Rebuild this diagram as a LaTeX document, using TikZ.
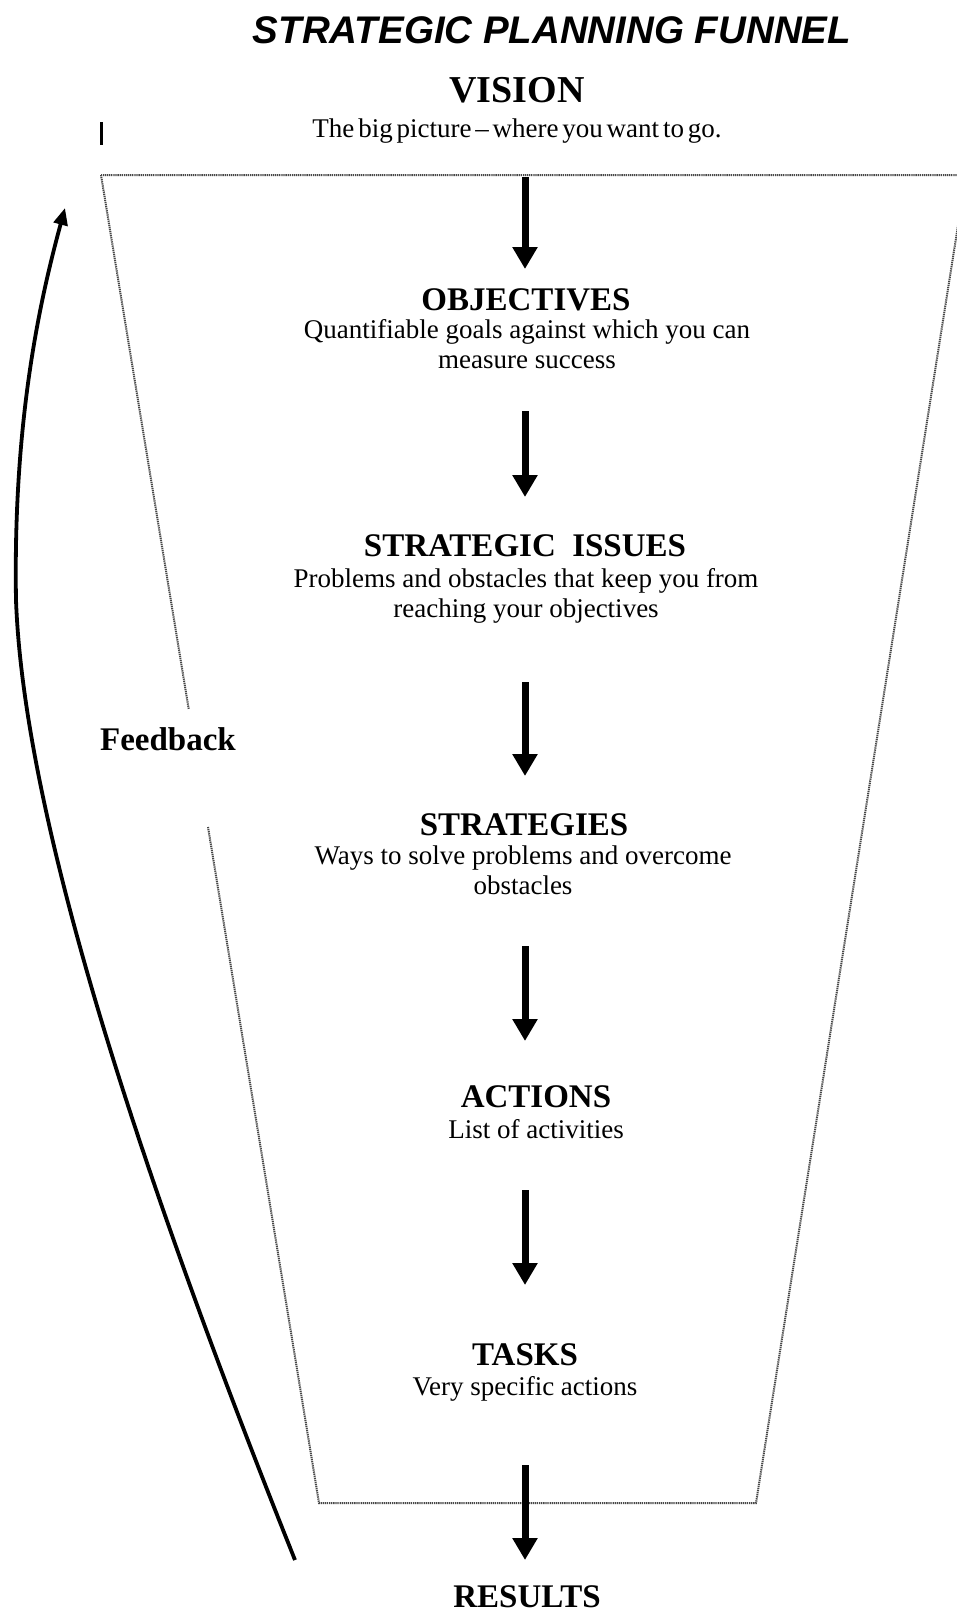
\documentclass[tikz,border=0pt]{standalone}
\usepackage{fontspec}
\setmainfont{Liberation Serif}
\newfontfamily\headsans{Liberation Sans}
\usetikzlibrary{arrows.meta}

\begin{document}
\begin{tikzpicture}[x=1pt,y=-1pt,
  funnelline/.style={draw=black!72, line width=2pt, dash pattern=on 1.3pt off 0.8pt},
  flowarrow/.style={line width=7pt, -{Triangle[width=24pt,length=22pt]}},
  headtext/.style={anchor=base, font=\fontsize{33}{36}\selectfont\bfseries, inner sep=0pt},
  bodytext/.style={anchor=base, font=\fontsize{27}{30}\selectfont, inner sep=0pt},
]
\useasboundingbox (0,0) rectangle (957,1612);
\fill[white] (0,0) rectangle (957,1612);

% funnel outline, left side broken around the feedback label
\begin{scope}
  \clip (0,0) rectangle (957,1612);
  \draw[funnelline] (101,175) -- (188.7,709);
  \draw[funnelline] (208,827) -- (319,1503) -- (756,1503) -- (966,175) -- (101,175);
\end{scope}

% small mark at the upper left
\draw[line width=3pt] (101,122) -- (101,145);

% title
\node[anchor=base, inner sep=0pt, font=\headsans\fontsize{38.5}{40}\selectfont\bfseries\itshape] (title) at (552,43) {STRATEGIC PLANNING FUNNEL};

% stages
\node[anchor=base, inner sep=0pt, font=\fontsize{38}{40}\selectfont\bfseries] (vision) at (517,102) {VISION};
\node[bodytext] (visiondesc) at (517,137) {\spaceskip=3.8pt The big picture – where you want to go.};

\node[headtext] (objectives) at (526,310) {OBJECTIVES};
\node[bodytext] (objdesc1) at (527,338) {Quantifiable goals against which you can};
\node[bodytext] (objdesc2) at (527,368) {measure success};

\node[headtext] (issues) at (525,556) {STRATEGIC\ \ ISSUES};
\node[bodytext] (issdesc1) at (526,587) {Problems and obstacles that keep you from};
\node[bodytext] (issdesc2) at (526,617) {reaching your objectives};

\node[headtext] (strategies) at (524,835) {STRATEGIES};
\node[bodytext] (strdesc1) at (523,864) {Ways to solve problems and overcome};
\node[bodytext] (strdesc2) at (523,894) {obstacles};

\node[headtext] (actions) at (536,1107) {ACTIONS};
\node[bodytext] (actdesc) at (536,1138) {List of activities};

\node[headtext] (tasks) at (525,1365) {TASKS};
\node[bodytext] (taskdesc) at (525,1395) {Very specific actions};

\node[headtext] (results) at (527,1607) {RESULTS};

\node[headtext] (feedback) at (168,750) {Feedback};

% flow arrows between stages
\coordinate (a1s) at (525,177);  \coordinate (a1e) at (525,269);
\coordinate (a2s) at (525,411);  \coordinate (a2e) at (525,497);
\coordinate (a3s) at (525,682);  \coordinate (a3e) at (525,776);
\coordinate (a4s) at (525,946);  \coordinate (a4e) at (525,1041);
\coordinate (a5s) at (525,1190); \coordinate (a5e) at (525,1285);
\coordinate (a6s) at (525,1465); \coordinate (a6e) at (525,1560);
\foreach \i in {1,...,6}
  \draw[flowarrow] (a\i s) -- (a\i e);

% feedback loop from results back to the top
\coordinate (fbs) at (295,1560);
\coordinate (fbe) at (65,208);
\draw[line width=3.8pt, -{Triangle[width=14pt,length=17pt]}]
  (fbs) .. controls (175,1260) and (25,850) .. (16,600)
        .. controls (13,420) and (40,300) .. (fbe);
\end{tikzpicture}
\end{document}
